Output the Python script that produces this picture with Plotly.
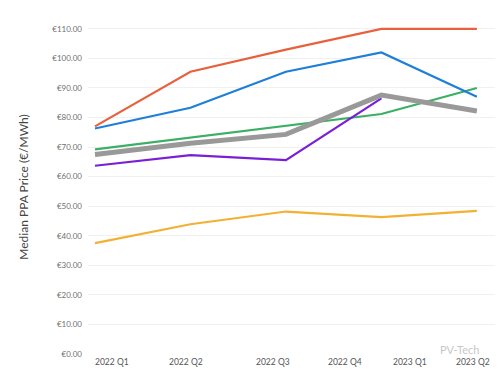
import plotly.graph_objects as go

# Data (5 observation points)
points = [0, 1, 2, 3, 4]
red = [77.0, 95.5, 103.0, 110.0, 110.0]
blue = [76.3, 83.3, 95.5, 102.0, 87.0]
green = [69.2, 73.2, 77.2, 81.2, 90.0]
purple = [63.7, 67.3, 65.6, 86.5, None]
yellow = [37.5, 43.9, 48.2, 46.3, 48.4]
gray = [67.5, 71.3, 74.3, 87.6, 82.2]

tick_labels = ["2022 Q1", "2022 Q2", "2022 Q3", "2022 Q4", "2023 Q1", "2023 Q2"]
tick_pos = [0.18, 0.95, 1.86, 2.62, 3.30, 3.96]

y_ticks = list(range(0, 120, 10))
y_text = ["€%.2f" % v for v in y_ticks]

series = [
    (yellow, "#F2B134", 2.2),
    (green, "#3BAF63", 2.2),
    (purple, "#7A1FD6", 2.2),
    (blue, "#1E7FD9", 2.2),
    (red, "#E8603C", 2.2),
    (gray, "#999999", 5),
]

fig = go.Figure()
for ys, col, w in series:
    fig.add_trace(go.Scatter(x=points, y=ys, mode="lines",
                             line=dict(color=col, width=w),
                             connectgaps=False, showlegend=False,
                             hoverinfo="skip"))

fig.update_layout(
    width=500, height=369,
    margin=dict(l=88, r=5, t=20, b=15),
    paper_bgcolor="white", plot_bgcolor="white",
    font=dict(family="Lato, sans-serif", color="#555555"),
    xaxis=dict(range=[-0.073, 4.19], showticklabels=False, showgrid=False,
               zeroline=False, showline=False, ticks="", automargin=False),
    yaxis=dict(range=[0, 113], tickmode="array", tickvals=y_ticks,
               ticktext=y_text, showgrid=True, gridcolor="#F0F0F0",
               gridwidth=1, zeroline=False, showline=False,
               tickfont=dict(size=8, color="#707070"), ticks="",
               ticklabelstandoff=5, automargin=False,
               title=dict(text="Median PPA Price (€/MWh)",
                          font=dict(size=12, color="#444444"), standoff=21)),
)

for pos, lab in zip(tick_pos, tick_labels):
    fig.add_annotation(x=pos, xref="x", y=0, yref="paper", yshift=-8,
                       yanchor="middle", xanchor="center", text=lab,
                       showarrow=False, font=dict(size=8.5, color="#555555"))

fig.add_annotation(xref="paper", yref="paper", x=1.0, y=0.0,
                   xanchor="right", yanchor="bottom", yshift=-4, xshift=-14,
                   text="PV-Tech", showarrow=False,
                   font=dict(size=11, color="#C8C8C8"))

fig.write_html("out.html", config={"displayModeBar": False},
               post_script="document.body.style.margin='0';document.body.style.overflow='hidden';")
